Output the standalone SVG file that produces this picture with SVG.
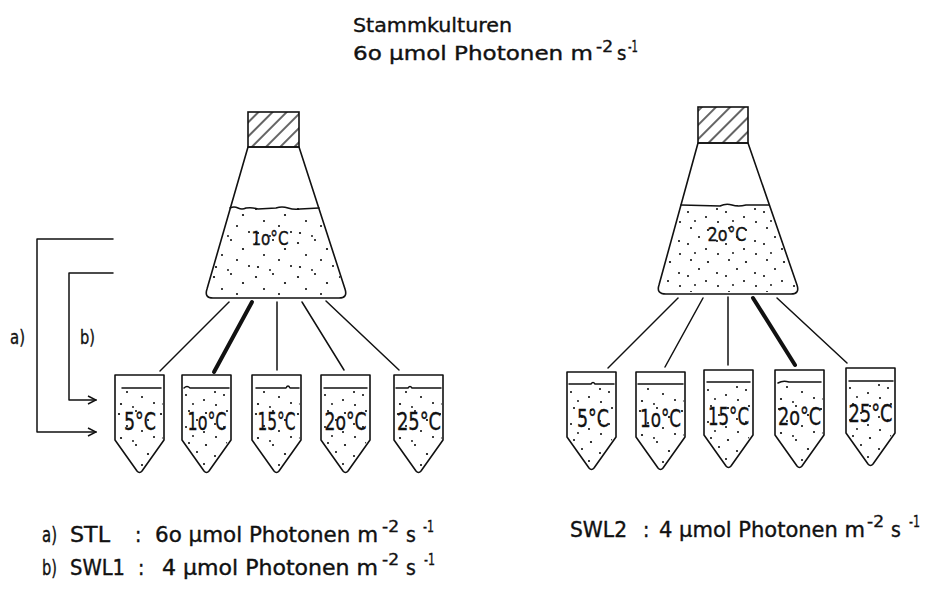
<svg xmlns="http://www.w3.org/2000/svg" width="937" height="589" viewBox="0 0 937 589">
  <style>
    .ln { fill: none; stroke: #111; stroke-width: 1.5; stroke-linecap: round; stroke-linejoin: round; }
    .thick { fill: none; stroke: #111; stroke-width: 4; stroke-linecap: round; }
    .txt { font-family: "DejaVu Sans Condensed", "Liberation Sans Narrow", "DejaVu Sans", sans-serif; font-stretch: condensed; fill: #111; stroke: #111; stroke-width: 0.35; }
    .cap { fill: url(#hatch); stroke: #111; stroke-width: 1.6; }
    .glass { fill: none; stroke: #111; stroke-width: 1.6; stroke-linejoin: round; }
    .liq { fill: url(#stipple); stroke: none; }
    .liq2 { fill: url(#stipple2); stroke: none; }
  </style>
  <defs>
    <pattern id="hatch" width="10" height="10" patternUnits="userSpaceOnUse" patternTransform="rotate(45)">
      <line x1="2" y1="0" x2="2" y2="10" stroke="#111" stroke-width="1.3"/>
    </pattern>
    <pattern id="stipple" width="42" height="34" patternUnits="userSpaceOnUse">
      <circle cx="4" cy="5" r="1.1"/><circle cx="21" cy="2" r="1"/><circle cx="33" cy="11" r="1.1"/>
      <circle cx="12" cy="17" r="1"/><circle cx="27" cy="22" r="1"/><circle cx="39" cy="28" r="1"/>
      <circle cx="6" cy="29" r="1.1"/><circle cx="18" cy="32" r="0.9"/>
    </pattern>
    <pattern id="stipple2" width="38" height="32" patternUnits="userSpaceOnUse">
      <circle cx="7" cy="4" r="1"/><circle cx="24" cy="6" r="1.1"/><circle cx="15" cy="13" r="1"/>
      <circle cx="33" cy="17" r="1"/><circle cx="4" cy="20" r="1"/><circle cx="22" cy="25" r="1"/>
      <circle cx="11" cy="29" r="0.9"/><circle cx="34" cy="30" r="1"/>
    </pattern>
    <marker id="openArrow" markerWidth="10" markerHeight="10" refX="9" refY="5" orient="auto" markerUnits="userSpaceOnUse">
      <path d="M1,1 L9,5 L1,9" fill="none" stroke="#111" stroke-width="1.5"/>
    </marker>
    <!-- centrifuge tube outline, 49 wide, top-left at origin -->
    <path id="tubeBody" d="M0,0 L49,0 L49,65 L27,96 Q24.5,99 22,96 L0,65 Z"/>
    <path id="tubeLiquid" d="M1.5,14 L47.5,14 L47.5,64 L26,95 Q24.5,97 23,95 L1.5,64 Z"/>
  </defs>

  <!-- heading -->
  <g id="title">
    <text class="txt" x="353" y="32" font-size="20" textLength="159" lengthAdjust="spacingAndGlyphs">Stammkulturen</text>
    <text class="txt" font-size="20">
      <tspan x="353" y="60" textLength="240" lengthAdjust="spacingAndGlyphs">6o µmol Photonen m</tspan>
      <tspan x="596" y="52" font-size="15" textLength="17" lengthAdjust="spacingAndGlyphs">-2</tspan>
      <tspan x="617" y="60">s</tspan>
      <tspan x="628" y="52" font-size="15" textLength="10" lengthAdjust="spacingAndGlyphs">-1</tspan>
    </text>
  </g>

  <!-- stock flask, 10 °C -->
  <g id="flask-10">
    <rect class="cap" x="248" y="112" width="51" height="35"/>
    <path class="liq" d="M230,208 L319,208 L344,290 Q346,296 339,296 L213,296 Q206,296 208,290 Z"/>
    <path class="glass" d="M248,147 L299,147 L345,289 Q348,298 339,298 L213,298 Q204,298 207,289 Z"/>
    <path class="ln" d="M230,208 Q234,206 238,208 T246,208 Q252,207 258,209 L276,208 Q282,206 288,208 T300,209 L319,208"/>
    <text class="txt" x="270" y="245" font-size="19" text-anchor="middle" textLength="37" lengthAdjust="spacingAndGlyphs">1o°C</text>
  </g>

  <!-- stock flask, 20 °C -->
  <g id="flask-20">
    <rect class="cap" x="698" y="107" width="50" height="36"/>
    <path class="liq2" d="M681,205 L769,205 L796,286 Q798,292 791,292 L666,292 Q659,292 661,286 Z"/>
    <path class="glass" d="M698,143 L748,143 L797,285 Q800,294 791,294 L666,294 Q656,294 659,285 Z"/>
    <path class="ln" d="M681,205 L720,206 Q726,203 732,205 T746,205 L769,205"/>
    <text class="txt" x="727" y="241" font-size="19" text-anchor="middle" textLength="39" lengthAdjust="spacingAndGlyphs">2o°C</text>
  </g>

  <!-- tubes fed from the 10 °C flask -->
  <g id="tube-l-5" transform="translate(115,375)">
    <use href="#tubeLiquid" class="liq"/><use href="#tubeBody" class="glass"/>
    <line class="ln" x1="7" y1="13" x2="46" y2="13"/>
    <text class="txt" x="25" y="55" font-size="24" text-anchor="middle" textLength="32" lengthAdjust="spacingAndGlyphs">5°C</text>
  </g>
  <g id="tube-l-10" transform="translate(182,375)">
    <use href="#tubeLiquid" class="liq2"/><use href="#tubeBody" class="glass"/>
    <path class="ln" d="M2,13 Q5,10 8,13 L47,13"/>
    <text class="txt" x="25" y="55" font-size="24" text-anchor="middle" textLength="39" lengthAdjust="spacingAndGlyphs">1o°C</text>
  </g>
  <g id="tube-l-15" transform="translate(252,375)">
    <use href="#tubeLiquid" class="liq"/><use href="#tubeBody" class="glass"/>
    <path class="ln" d="M4,13 L34,13 Q36,9 38,13 L47,13"/>
    <text class="txt" x="24.5" y="55" font-size="24" text-anchor="middle" textLength="38" lengthAdjust="spacingAndGlyphs">15°C</text>
  </g>
  <g id="tube-l-20" transform="translate(321,375)">
    <use href="#tubeLiquid" class="liq2"/><use href="#tubeBody" class="glass"/>
    <line class="ln" x1="3" y1="13" x2="46" y2="13"/>
    <text class="txt" x="24.5" y="55" font-size="24" text-anchor="middle" textLength="42" lengthAdjust="spacingAndGlyphs">2o°C</text>
  </g>
  <g id="tube-l-25" transform="translate(394,375)">
    <use href="#tubeLiquid" class="liq"/><use href="#tubeBody" class="glass"/>
    <path class="ln" d="M2,13 L14,13 Q16,10 18,13 L47,13"/>
    <text class="txt" x="25" y="55" font-size="24" text-anchor="middle" textLength="44" lengthAdjust="spacingAndGlyphs">25°C</text>
  </g>

  <!-- tubes fed from the 20 °C flask -->
  <g id="tube-r-5" transform="translate(567,372)">
    <use href="#tubeLiquid" class="liq2"/><use href="#tubeBody" class="glass"/>
    <path class="ln" d="M2,12 L24,12 Q26,9 28,12 L47,12"/>
    <text class="txt" x="26" y="55" font-size="24" text-anchor="middle" textLength="32" lengthAdjust="spacingAndGlyphs">5°C</text>
  </g>
  <g id="tube-r-10" transform="translate(636,372)">
    <use href="#tubeLiquid" class="liq"/><use href="#tubeBody" class="glass"/>
    <line class="ln" x1="2" y1="12" x2="47" y2="12"/>
    <text class="txt" x="24.5" y="55" font-size="24" text-anchor="middle" textLength="41" lengthAdjust="spacingAndGlyphs">1o°C</text>
  </g>
  <g id="tube-r-15" transform="translate(704,370)">
    <use href="#tubeLiquid" class="liq2"/><use href="#tubeBody" class="glass"/>
    <line class="ln" x1="3" y1="12" x2="46" y2="12"/>
    <text class="txt" x="24.5" y="55" font-size="24" text-anchor="middle" textLength="41" lengthAdjust="spacingAndGlyphs">15°C</text>
  </g>
  <g id="tube-r-20" transform="translate(775,370)">
    <use href="#tubeLiquid" class="liq"/><use href="#tubeBody" class="glass"/>
    <path class="ln" d="M3,13 Q8,10 14,12 L46,12"/>
    <text class="txt" x="24.5" y="55" font-size="24" text-anchor="middle" textLength="43" lengthAdjust="spacingAndGlyphs">2o°C</text>
  </g>
  <g id="tube-r-25" transform="translate(846,368)">
    <use href="#tubeLiquid" class="liq2"/><use href="#tubeBody" class="glass"/>
    <line class="ln" x1="3" y1="13" x2="47" y2="13"/>
    <text class="txt" x="24.5" y="54" font-size="24" text-anchor="middle" textLength="44" lengthAdjust="spacingAndGlyphs">25°C</text>
  </g>

  <!-- connectors: flask to tubes, and the light-regime brackets -->
  <g id="connectors">
    <line class="ln" x1="229" y1="302" x2="160" y2="371"/>
    <line class="thick" x1="252" y1="302" x2="214" y2="372"/>
    <line class="ln" x1="277" y1="302" x2="277" y2="370"/>
    <line class="ln" x1="302" y1="302" x2="344" y2="370"/>
    <line class="ln" x1="326" y1="301" x2="399" y2="370"/>

    <line class="ln" x1="678" y1="298" x2="608" y2="368"/>
    <line class="ln" x1="703" y1="298" x2="665" y2="367"/>
    <line class="ln" x1="728" y1="297" x2="728" y2="365"/>
    <line class="thick" x1="753" y1="298" x2="795" y2="365"/>
    <line class="ln" x1="777" y1="298" x2="847" y2="363"/>

    <path class="ln" d="M113,239 L37,239 L37,432 L96,432" marker-end="url(#openArrow)"/>
    <path class="ln" d="M113,273 L69,273 L69,400 L96,400" marker-end="url(#openArrow)"/>
  </g>

  <g id="bracket-labels">
    <text class="txt" x="10" y="344" font-size="20" textLength="15" lengthAdjust="spacingAndGlyphs">a)</text>
    <text class="txt" x="80" y="344" font-size="20" textLength="15" lengthAdjust="spacingAndGlyphs">b)</text>
  </g>

  <!-- legend -->
  <g id="legend" class="txt" font-size="21">
    <text y="542"><tspan x="42" textLength="15" lengthAdjust="spacingAndGlyphs">a)</tspan><tspan x="70" textLength="40" lengthAdjust="spacingAndGlyphs">STL</tspan><tspan x="135">:</tspan><tspan x="155" textLength="223" lengthAdjust="spacingAndGlyphs">6o µmol Photonen m</tspan><tspan x="382" y="532" font-size="16" textLength="17" lengthAdjust="spacingAndGlyphs">-2</tspan><tspan x="406" y="542">s</tspan><tspan x="423" y="532" font-size="16" textLength="11" lengthAdjust="spacingAndGlyphs">-1</tspan></text>
    <text y="575"><tspan x="42" textLength="15" lengthAdjust="spacingAndGlyphs">b)</tspan><tspan x="70" textLength="55" lengthAdjust="spacingAndGlyphs">SWL1</tspan><tspan x="138">:</tspan><tspan x="162" textLength="216" lengthAdjust="spacingAndGlyphs">4 µmol Photonen m</tspan><tspan x="382" y="565" font-size="16" textLength="17" lengthAdjust="spacingAndGlyphs">-2</tspan><tspan x="406" y="575">s</tspan><tspan x="424" y="565" font-size="16" textLength="11" lengthAdjust="spacingAndGlyphs">-1</tspan></text>
    <text y="537"><tspan x="570" textLength="57" lengthAdjust="spacingAndGlyphs">SWL2</tspan><tspan x="643">:</tspan><tspan x="659" textLength="206" lengthAdjust="spacingAndGlyphs">4 µmol Photonen m</tspan><tspan x="867" y="527" font-size="16" textLength="17" lengthAdjust="spacingAndGlyphs">-2</tspan><tspan x="891" y="537">s</tspan><tspan x="909" y="527" font-size="16" textLength="11" lengthAdjust="spacingAndGlyphs">-1</tspan></text>
  </g>
</svg>
